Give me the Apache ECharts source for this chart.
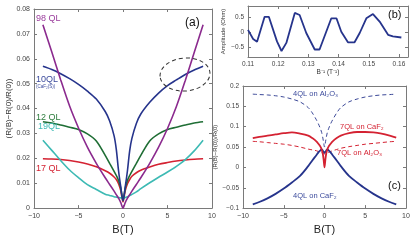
<!DOCTYPE html>
<html><head><meta charset="utf-8">
<script src="https://cdn.jsdelivr.net/npm/echarts@6/dist/echarts.min.js"></script>
<style>html,body{margin:0;padding:0;background:#fff}#c{width:415px;height:240px}</style>
</head><body><div id="c"></div>
<script>
// ---------- Panel (a) data ----------
const fieldA = [-9,-8,-7,-6,-5,-4,-3,-2,-1.5,-1,-0.75,-0.5,-0.25,0,0.25,0.5,0.75,1,1.5,2,3,4,5,6,7,8,9];
const mr98QL = [0.0737,0.0627,0.0515,0.0410,0.0322,0.0245,0.0180,0.0122,0.0095,0.0068,0.0054,0.0040,0.0022,0.0000,0.0022,0.0040,0.0054,0.0068,0.0095,0.0122,0.0180,0.0245,0.0320,0.0408,0.0513,0.0625,0.0737];
const mr10QL = [0.0570,0.0557,0.0540,0.0520,0.0497,0.0470,0.0438,0.0388,0.0350,0.0290,0.0235,0.0150,0.0085,0.0030,0.0085,0.0150,0.0230,0.0280,0.0340,0.0378,0.0425,0.0462,0.0492,0.0515,0.0537,0.0555,0.0570];
const mr12QL = [0.0347,0.0342,0.0334,0.0325,0.0316,0.0298,0.0270,0.0212,0.0180,0.0148,0.0131,0.0111,0.0080,0.0030,0.0080,0.0111,0.0131,0.0148,0.0180,0.0212,0.0270,0.0298,0.0316,0.0325,0.0334,0.0342,0.0347];
const mr19QL = [0.0273,0.0232,0.0191,0.0153,0.0122,0.0094,0.0075,0.0056,0.0051,0.0046,0.0044,0.0042,0.0041,0.0040,0.0043,0.0046,0.0050,0.0055,0.0065,0.0078,0.0102,0.0124,0.0145,0.0168,0.0195,0.0230,0.0273];
const mr17QL = [0.0198,0.0197,0.0195,0.0191,0.0185,0.0177,0.0166,0.0150,0.0140,0.0125,0.0115,0.0098,0.0070,0.0025,0.0070,0.0098,0.0115,0.0128,0.0142,0.0152,0.0165,0.0176,0.0183,0.0189,0.0193,0.0196,0.0198];

// ---------- Panel (b) data ----------
const invField = [0.1100,0.1117,0.1130,0.1155,0.1169,0.1196,0.1211,0.1227,0.1255,0.1271,0.1293,0.1321,0.1337,0.1376,0.1393,0.1409,0.1431,0.1453,0.1470,0.1492,0.1514,0.1536,0.1564,0.1580,0.1608];
const amplitude = [0.075,-0.23,-0.32,0.51,0.51,-0.31,-0.63,-0.36,0.64,0.57,-0.03,-0.58,-0.58,0.46,0.46,0.01,-0.34,-0.34,-0.03,0.46,0.60,0.35,-0.09,-0.14,-0.18];

// ---------- Panel (c) data ----------
const fieldC = [-8.8,-8,-7,-6,-5,-4,-3,-2,-1.5,-1,-0.75,-0.5,-0.35,-0.2,-0.1,0,0.1,0.2,0.35,0.5,0.75,1,1.5,2,3,4,5,6,7,8,8.8];
const mr4QLAl = [0.180,0.179,0.178,0.176,0.173,0.168,0.161,0.147,0.134,0.117,0.107,0.095,0.086,0.072,0.060,0.050,0.060,0.072,0.086,0.095,0.107,0.117,0.134,0.147,0.161,0.168,0.173,0.176,0.178,0.179,0.180];
const mr7QLCaF = [0.072,0.075,0.078,0.081,0.084,0.086,0.083,0.078,0.072,0.064,0.058,0.051,0.044,0.033,0.018,0.000,0.018,0.033,0.044,0.051,0.058,0.064,0.072,0.078,0.084,0.087,0.087,0.086,0.083,0.078,0.073];
const mr7QLAl = [0.064,0.063,0.061,0.059,0.057,0.054,0.050,0.045,0.043,0.041,0.039,0.037,0.036,0.035,0.034,0.033,0.034,0.035,0.036,0.037,0.039,0.041,0.044,0.047,0.051,0.054,0.057,0.059,0.061,0.063,0.064];
const mr4QLCaF = [-0.091,-0.085,-0.076,-0.065,-0.052,-0.037,-0.021,0.003,0.017,0.030,0.037,0.042,0.044,0.041,0.038,0.036,0.038,0.041,0.044,0.042,0.037,0.030,0.017,0.003,-0.021,-0.037,-0.052,-0.065,-0.076,-0.085,-0.091];

// ---------- styling ----------
const FONT = '"Liberation Sans", Arial, Helvetica, sans-serif';
const AXIS = '#7a7a7a', LBL = '#444';
const C = {purple:'#8b2a8e', navy:'#26348c', green:'#1f6e35', cyan:'#3dbab4', red:'#d42232'};

const zip = (xs, ys) => xs.map((x, i) => [x, ys[i]]);
const fmt = v => String(+Number(v).toFixed(4)).replace('-', '\u2212');

function xAx(grid, min, max, opt) {
  return Object.assign({
    type:'value', gridIndex:grid, min, max, position:'bottom',
    axisLine:{show:true, onZero:false, lineStyle:{color:AXIS, width:1}},
    axisTick:{show:true, inside:true, length:3, lineStyle:{color:AXIS}},
    axisLabel:{color:LBL, fontSize:7, fontFamily:FONT, margin:4, formatter:fmt},
    splitLine:{show:false}
  }, opt);
}
function yAx(grid, min, max, opt) {
  return Object.assign({
    type:'value', gridIndex:grid, min, max, position:'left',
    axisLine:{show:true, onZero:false, lineStyle:{color:AXIS, width:1}},
    axisTick:{show:true, inside:true, length:3, lineStyle:{color:AXIS}},
    axisLabel:{color:LBL, fontSize:7, fontFamily:FONT, margin:4, formatter:fmt},
    splitLine:{show:false}
  }, opt);
}
function mirror(ax, pos) {
  return Object.assign({}, ax, {position:pos, axisLabel:{show:false}, name:'' });
}

const xa = xAx(0, -10, 10, {interval:5, name:'B(T)', nameLocation:'middle', nameGap:12,
  nameTextStyle:{fontSize:11, color:'#222', fontFamily:FONT}});
const ya = yAx(0, 0, 0.08, {interval:0.01, name:'(R(B)\u2212R(0)/R(0))', nameLocation:'middle', nameGap:21, nameRotate:90,
  nameTextStyle:{fontSize:8, color:'#333', fontFamily:FONT}});
const xb = xAx(1, 0.11, 0.163, {splitNumber:5, name:'B\u207B\u00B9 (T\u207B\u00B9)', nameLocation:'middle', nameGap:11,
  axisLabel:{color:LBL, fontSize:6.5, fontFamily:FONT, margin:4, formatter:fmt, showMaxLabel:false},
  nameTextStyle:{fontSize:6.5, color:'#333', fontFamily:FONT}});
const yb = yAx(1, -0.83, 0.87, {splitNumber:3, name:'Amplitude (Ohm)', nameLocation:'middle', nameGap:22, nameRotate:90,
  axisLabel:{color:LBL, fontSize:6.5, fontFamily:FONT, margin:4, formatter:fmt, showMinLabel:false, showMaxLabel:false},
  nameTextStyle:{fontSize:6, color:'#333', fontFamily:FONT}});
const xc = xAx(2, -10, 10, {interval:5, name:'B(T)', nameLocation:'middle', nameGap:10,
  nameTextStyle:{fontSize:11, color:'#222', fontFamily:FONT}});
const yc = yAx(2, -0.1, 0.2, {interval:0.05, name:'(R(B)\u2212R(0))/R(0)', nameLocation:'middle', nameGap:17, nameRotate:90,
  axisLabel:{color:LBL, fontSize:6.5, fontFamily:FONT, margin:4, formatter:fmt},
  nameTextStyle:{fontSize:6, color:'#333', fontFamily:FONT}});

function line(xi, data, color, opt) {
  return Object.assign({
    type:'line', xAxisIndex:xi, yAxisIndex:xi, data, showSymbol:false, symbol:'none',
    smooth:0.3, lineStyle:{color, width:1.6}, silent:true, animation:false, z:3
  }, opt);
}

const txt = (left, top, text, color, size, extra) => Object.assign({
  type:'text', left, top, silent:true, z:10,
  style:{text, fill:color, font: size + 'px ' + FONT}
}, extra || {});

const option = {
  animation:false,
  backgroundColor:'#fff',
  grid:[
    {left:34, top:9, width:178, height:203},
    {left:248, top:6, width:160, height:51},
    {left:243, top:86, width:163, height:127}
  ],
  xAxis:[xa, xb, xc, mirror(xa,'top'), mirror(xb,'top'), mirror(xc,'top')],
  yAxis:[ya, yb, yc, mirror(ya,'right'), mirror(yb,'right'), mirror(yc,'right')],
  series:[
    line(0, zip(fieldA, mr17QL), C.red),
    line(0, zip(fieldA, mr19QL), C.cyan),
    line(0, zip(fieldA, mr12QL), C.green),
    line(0, zip(fieldA, mr10QL), C.navy),
    line(0, zip(fieldA, mr98QL), C.purple),
    line(1, zip(invField, amplitude), C.navy, {smooth:false, lineStyle:{color:C.navy, width:1.8}}),
    line(2, zip(fieldC, mr4QLAl), C.navy, {lineStyle:{color:C.navy, width:0.9, type:[4,3]}}),
    line(2, zip(fieldC, mr7QLAl), C.red, {lineStyle:{color:C.red, width:1, type:[4,3]}}),
    line(2, zip(fieldC, mr4QLCaF), C.navy, {lineStyle:{color:C.navy, width:1.8}}),
    line(2, zip(fieldC, mr7QLCaF), C.red, {lineStyle:{color:C.red, width:1.8}})
  ],
  graphic:[
    txt(36, 14, '98 QL', '#9a3c9c', 9),
    txt(185, 17, '(a)', '#111', 12),
    txt(36, 75, '10QL', '#3b4a9c', 9),
    txt(36, 84, '(CaF\u2082(S))', '#3b4a9c', 4.5),
    txt(36, 113, '12 QL', '#2e7d3e', 9),
    txt(38, 122, '19QL', '#3dbab4', 9),
    txt(36, 164, '17 QL', '#d42232', 9),
    {type:'ellipse', silent:true, z:9, x:185, y:74.5, rotation:0.08,
     shape:{cx:0, cy:0, rx:25, ry:16.5},
     style:{fill:'none', stroke:'#333', lineWidth:1, lineDash:[4,3]}},
    txt(388, 9, '(b)', '#111', 11),
    txt(388, 180, '(c)', '#111', 11),
    txt(293, 90, '4QL on Al\u2082O\u2083', '#3b4a9c', 7.5),
    txt(340, 123, '7QL on CaF\u2082', '#d42232', 7.5),
    txt(337, 149, '7QL on Al\u2082O\u2083', '#d42232', 7.5),
    txt(293, 192, '4QL on CaF\u2082', '#3b4a9c', 7.5)
  ]
};
const chart = echarts.init(document.getElementById('c'), null, {renderer:'canvas'});
chart.setOption(option);
</script>
</body></html>
